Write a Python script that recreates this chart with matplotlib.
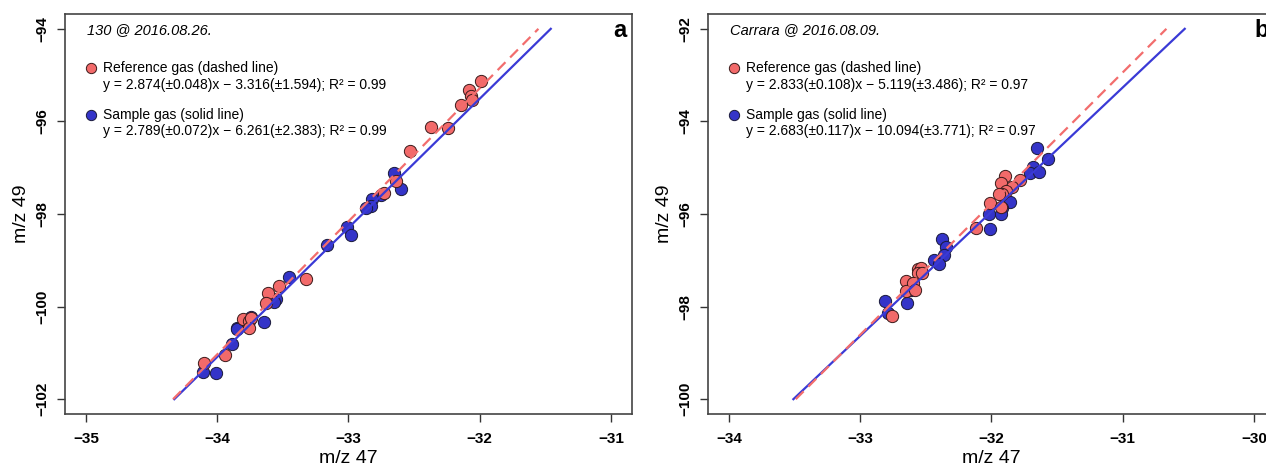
import numpy as np
import matplotlib
matplotlib.use("Agg")
import matplotlib.pyplot as plt

plt.rcParams['font.family'] = ['Liberation Sans', 'DejaVu Sans']

# panel a: 130 @ 2016.08.26
a_ref_x = [-31.99, -32.08, -32.07, -32.06, -32.14, -32.37, -32.24, -32.53, -32.64, -32.73,
           -33.32, -33.53, -33.61, -33.63, -33.80, -33.76, -33.74, -33.76, -33.94, -34.10]
a_ref_y = [-95.13, -95.32, -95.46, -95.53, -95.65, -96.12, -96.15, -96.64, -97.29, -97.54,
           -99.41, -99.55, -99.71, -99.93, -100.27, -100.31, -100.24, -100.47, -101.04, -101.21]
a_smp_x = [-32.65, -32.60, -32.75, -32.82, -32.83, -32.87, -33.01, -32.98, -33.16, -33.45,
           -33.55, -33.57, -33.74, -33.64, -33.85, -33.85, -33.89, -34.11, -34.01]
a_smp_y = [-97.11, -97.45, -97.60, -97.67, -97.82, -97.86, -98.29, -98.46, -98.66, -99.36,
           -99.84, -99.91, -100.23, -100.33, -100.47, -100.49, -100.80, -101.41, -101.43]

# panel b: Carrara @ 2016.08.09
b_ref_x = [-31.90, -31.93, -31.78, -31.84, -31.89, -31.92, -31.94, -32.01, -31.93, -32.12,
           -32.56, -32.54, -32.56, -32.53, -32.65, -32.60, -32.65, -32.58, -32.76]
b_ref_y = [-95.18, -95.33, -95.27, -95.41, -95.51, -95.56, -95.56, -95.77, -95.85, -96.30,
           -97.19, -97.17, -97.28, -97.28, -97.45, -97.50, -97.66, -97.64, -98.20]
b_smp_x = [-31.65, -31.57, -31.68, -31.71, -31.64, -31.86, -31.92, -32.02, -31.93, -32.01,
           -32.38, -32.35, -32.36, -32.44, -32.40, -32.61, -32.81, -32.64, -32.79]
b_smp_y = [-94.58, -94.81, -94.98, -95.12, -95.10, -95.73, -95.87, -95.99, -95.99, -96.32,
           -96.54, -96.72, -96.89, -97.00, -97.08, -97.64, -97.88, -97.92, -98.13]

# fitted lines (slope, intercept) as printed in the legends
a_ref_fit = (2.874, -3.316)
a_smp_fit = (2.789, -6.261)
b_ref_fit = (2.833, -5.119)
b_smp_fit = (2.683, -10.094)

a_ref_txt = "y = 2.874(\u00b10.048)x \u2212 3.316(\u00b11.594); R\u00b2 = 0.99"
a_smp_txt = "y = 2.789(\u00b10.072)x \u2212 6.261(\u00b12.383); R\u00b2 = 0.99"
b_ref_txt = "y = 2.833(\u00b10.108)x \u2212 5.119(\u00b13.486); R\u00b2 = 0.97"
b_smp_txt = "y = 2.683(\u00b10.117)x \u2212 10.094(\u00b13.771); R\u00b2 = 0.97"

a_xticks = [-35, -34, -33, -32, -31]
a_yticks = [-102, -100, -98, -96, -94]
b_xticks = [-34, -33, -32, -31, -30]
b_yticks = [-100, -98, -96, -94, -92]

red_fill = "#f26a6a"
blue_fill = "#3434c8"
red_line = "#f26d6d"
blue_line = "#3a3ad6"

fig = plt.figure(figsize=(12.66, 4.70), dpi=100)
axa = fig.add_axes([0.05134, 0.11915, 0.44787, 0.85106])
axb = fig.add_axes([0.55924, 0.11915, 0.44787, 0.85106])


def panel(ax, rx, ry, sx, sy, rfit, sfit, xt, yt, title, rtxt, stxt, letter):
    lo, hi = yt[0], yt[-1]
    xr, yr = xt[-1] - xt[0], yt[-1] - yt[0]
    ax.set_xlim(xt[0] - 0.04 * xr, xt[-1] + 0.04 * xr)
    ax.set_ylim(lo - 0.04 * yr, hi + 0.04 * yr)

    ax.scatter(sx, sy, s=78, c=blue_fill, edgecolors="#1a1a3a", linewidths=0.7, zorder=2)
    ax.scatter(rx, ry, s=78, c=red_fill, edgecolors="#3a1a1a", linewidths=0.7, zorder=2)

    # lines span the y tick range
    yy = np.array([lo, hi])
    ax.plot((yy - sfit[1]) / sfit[0], yy, color=blue_line, lw=1.6, zorder=3)
    ax.plot((yy - rfit[1]) / rfit[0], yy, color=red_line, lw=1.6, ls=(0, (5, 3)), zorder=3)

    ax.set_xticks(xt)
    ax.set_yticks(yt)
    ax.set_xticklabels([str(v).replace("-", "\u2212") for v in xt], fontweight="bold", fontsize=11)
    ax.set_yticklabels([str(v).replace("-", "\u2212") for v in yt], fontweight="bold", fontsize=11,
                       rotation=90, va="center")
    ax.tick_params(axis="both", length=6, width=1.0, color="#333333")
    ax.tick_params(axis="x", pad=7)
    ax.tick_params(axis="y", pad=5)
    for sp in ax.spines.values():
        sp.set_color("#444444")
        sp.set_linewidth(1.2)
    ax.set_xlabel("m/z 47", fontsize=14, labelpad=3)
    ax.set_ylabel("m/z 49", fontsize=14, labelpad=4)

    tr = ax.transAxes
    ax.text(0.039, 0.96, title, transform=tr, fontsize=10.5, style="italic", va="center")
    ax.text(0.99, 0.96, letter, transform=tr, fontsize=17, fontweight="bold", va="center", ha="right")
    ax.scatter([0.046], [0.865], s=55, c=red_fill, edgecolors="#3a1a1a", linewidths=0.7,
               transform=tr, clip_on=False, zorder=4)
    ax.scatter([0.046], [0.7475], s=55, c=blue_fill, edgecolors="#1a1a3a", linewidths=0.7,
               transform=tr, clip_on=False, zorder=4)
    ax.text(0.067, 0.865, "Reference gas (dashed line)", transform=tr, fontsize=10, va="center")
    ax.text(0.067, 0.8225, rtxt, transform=tr, fontsize=10, va="center")
    ax.text(0.067, 0.7475, "Sample gas (solid line)", transform=tr, fontsize=10, va="center")
    ax.text(0.067, 0.7075, stxt, transform=tr, fontsize=10, va="center")


panel(axa, a_ref_x, a_ref_y, a_smp_x, a_smp_y, a_ref_fit, a_smp_fit, a_xticks, a_yticks,
      "130 @ 2016.08.26.", a_ref_txt, a_smp_txt, "a")
panel(axb, b_ref_x, b_ref_y, b_smp_x, b_smp_y, b_ref_fit, b_smp_fit, b_xticks, b_yticks,
      "Carrara @ 2016.08.09.", b_ref_txt, b_smp_txt, "b")

fig.savefig("out.png", dpi=100)
